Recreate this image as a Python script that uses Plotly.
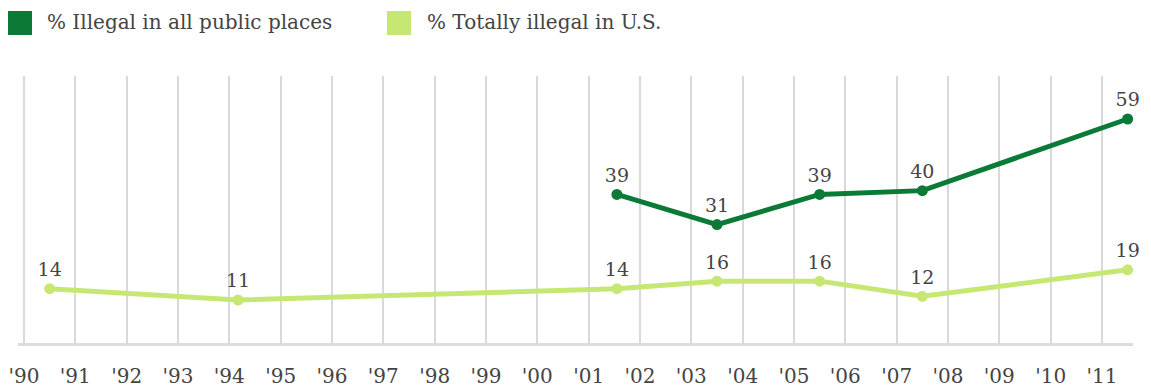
import plotly.graph_objects as go

# Survey years (fractional: fieldwork month within the year)
years_public = [2001.55, 2003.5, 2005.5, 2007.5, 2011.5]
pct_public = [39, 31, 39, 40, 59]

years_total = [1990.5, 1994.17, 2001.55, 2003.5, 2005.5, 2007.5, 2011.5]
pct_total = [14, 11, 14, 16, 16, 12, 19]

tick_years = list(range(1990, 2012))
tick_labels = ["'" + str(y)[2:] for y in tick_years]

series_names = ["% Illegal in all public places", "% Totally illegal in U.S."]
DARK = "#0b7a37"
LIGHT = "#c6e873"
FONT = "DejaVu Serif"
TEXT = "#444444"

fig = go.Figure()

fig.add_trace(go.Scatter(
    x=years_total, y=pct_total, mode="lines+markers+text",
    text=[str(v) for v in pct_total], textposition="top center",
    textfont=dict(family=FONT, size=19, color=TEXT),
    line=dict(color=LIGHT, width=5), marker=dict(color=LIGHT, size=11),
    name=series_names[1], showlegend=False, cliponaxis=False,
))
fig.add_trace(go.Scatter(
    x=years_public, y=pct_public, mode="lines+markers+text",
    text=[str(v) for v in pct_public], textposition="top center",
    textfont=dict(family=FONT, size=19, color=TEXT),
    line=dict(color=DARK, width=5), marker=dict(color=DARK, size=11),
    name=series_names[0], showlegend=False, cliponaxis=False,
))

# Legend row: colour swatch + caption (paper coordinates of the plot area)
W, H = 1151, 392
ml, mr, mt, mb = 18, 18, 76, 49
pw, ph = W - ml - mr, H - mt - mb


def px_x(x):
    return (x - ml) / pw


def px_y(y):
    return (H - mb - y) / ph


legend_items = [(8, 45, DARK, series_names[0]), (387, 425, LIGHT, series_names[1])]
for sx, tx, col, label in legend_items:
    fig.add_shape(type="rect", xref="paper", yref="paper",
                  x0=px_x(sx), x1=px_x(sx + 24), y0=px_y(35), y1=px_y(11),
                  fillcolor=col, line=dict(width=0))
    fig.add_annotation(xref="paper", yref="paper", x=px_x(tx), y=px_y(22),
                       xanchor="left", yanchor="middle", text=label,
                       showarrow=False,
                       font=dict(family=FONT, size=20, color=TEXT))

fig.update_layout(
    width=W, height=H,
    margin=dict(l=ml, r=mr, t=mt, b=mb),
    paper_bgcolor="white", plot_bgcolor="white",
    showlegend=False,
    xaxis=dict(
        range=[1989.883, 2011.604],
        tickmode="array", tickvals=tick_years, ticktext=tick_labels,
        showgrid=True, gridcolor="#d9d9d9", gridwidth=1.5,
        showline=True, linecolor="#dcdcdc", linewidth=3,
        ticks="", ticklabelstandoff=13, automargin=False,
        tickfont=dict(family=FONT, size=20, color=TEXT),
        zeroline=False, fixedrange=True,
    ),
    yaxis=dict(
        range=[-0.4, 70.4], showgrid=False, showticklabels=False,
        zeroline=False, showline=False, fixedrange=True, automargin=False,
    ),
)

fig.write_html("out.html")
